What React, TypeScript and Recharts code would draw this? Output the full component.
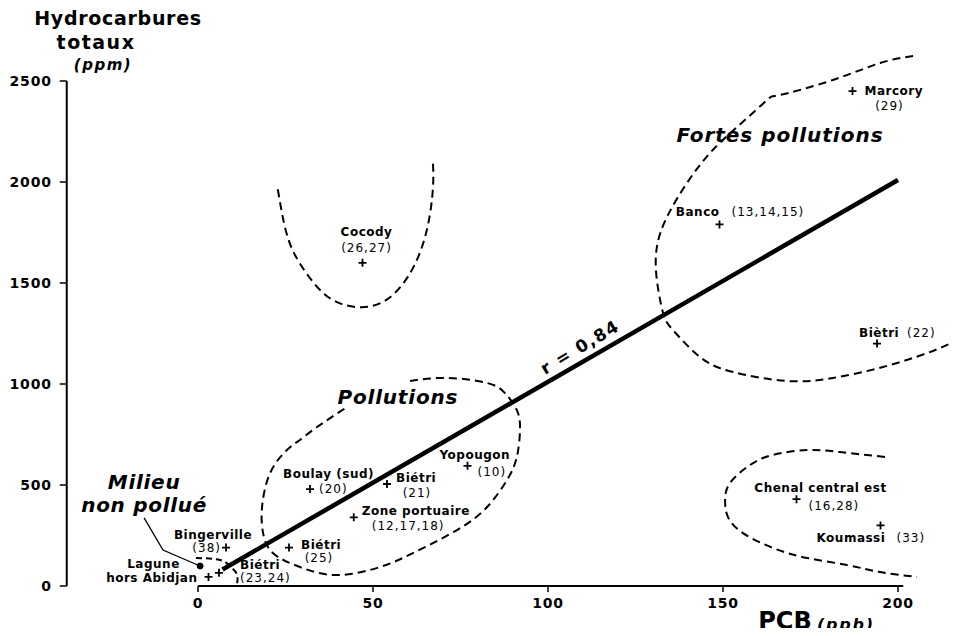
import {
  ComposedChart,
  Customized,
  Line,
  ReferenceDot,
  ReferenceLine,
  Scatter,
  XAxis,
  YAxis,
} from 'recharts';

const FONT = '"DejaVu Sans", "Liberation Sans", sans-serif';

// sampling sites: PCB (ppb) vs total hydrocarbons (ppm), station numbers in brackets
const SITE_IDS = ['marcory', 'banco', 'bietri22', 'cocody', 'chenal', 'koumassi', 'yopougon', 'bietri21', 'boulay', 'zone', 'bietri25', 'bingerville', 'lagune', 'bietri2324'];
const SITE_NAMES = ['Marcory', 'Banco', 'Biètri', 'Cocody', 'Chenal central est', 'Koumassi', 'Yopougon', 'Biétri', 'Boulay (sud)', 'Zone portuaire', 'Biétri', 'Bingerville', 'Lagune\nhors Abidjan', 'Biétri'];
const STATIONS = ['(29)', '(13,14,15)', '(22)', '(26,27)', '(16,28)', '(33)', '(10)', '(21)', '(20)', '(12,17,18)', '(25)', '(38)', '', '(23,24)'];
const PCB_PPB = [187, 149, 194, 47, 171, 195, 77, 54, 32, 44.5, 26, 8, 3, 6];
const HC_PPM = [2450, 1790, 1200, 1600, 430, 300, 595, 505, 480, 340, 190, 190, 45, 65];

// regression line, r = 0,84
const REG_PCB = [7, 200];
const REG_HC = [82, 2010];

// dashed group outlines
const COCODY_PCB = [22.8, 25.3, 29.1, 34.9, 40.6, 46.8, 53, 58.7, 63.4, 66.2, 67.2, 67.1];
const COCODY_HC = [1964, 1746, 1597, 1465, 1399, 1380, 1408, 1499, 1650, 1832, 1997, 2097];
const POLL_PCB = [60.6, 71.1, 82.6, 87.7, 91.1, 92, 91.1, 88.3, 82.6, 74, 61.4, 52, 39.7, 29.1, 21.4, 18.6, 18.3, 20.6, 25.4, 29.1, 34, 42.6];
const POLL_HC = [1015, 1030, 1005, 955, 871, 772, 639, 525, 391, 277, 163, 94, 54, 94, 163, 262, 391, 559, 673, 723, 787, 886];
const FORTES_PCB = [204.3, 194.9, 181.4, 166.3, 162.6, 154, 146.3, 139.7, 134, 131.1, 131.1, 132.9, 135.7, 143.4, 152.9, 168.3, 181.4, 195.7, 208.3, 214.6];
const FORTES_HC = [2624, 2589, 2505, 2431, 2406, 2272, 2144, 1995, 1827, 1678, 1515, 1351, 1267, 1134, 1059, 1015, 1030, 1084, 1153, 1198];
const CHENAL_PCB = [196.3, 183.4, 174, 164.3, 157.7, 152, 150.6, 151.4, 155.7, 164.3, 174, 185.4, 194.9, 205.4];
const CHENAL_HC = [639, 663, 673, 649, 599, 510, 426, 342, 262, 188, 139, 104, 69, 45];
const MILIEU_PCB = [-0.6, 6.3, 9.1, 11.1, 11.1];
const MILIEU_HC = [139, 129, 99, 59, 5];
const LEADER_PCB = [-15.4, -10, 0.6];
const LEADER_HC = [337, 178, 99];

const X_TICKS = [0, 50, 100, 150, 200];
const Y_TICKS = [0, 500, 1000, 1500, 2000, 2500];

const toPoints = (xs: number[], ys: number[]) => xs.map((x, i) => ({ x, y: ys[i] }));

const sites = SITE_IDS.map((id, i) => ({ id, name: SITE_NAMES[i], station: STATIONS[i], x: PCB_PPB[i], y: HC_PPM[i] }));

type Anchor = 'start' | 'middle' | 'end';
type Place = [number, number, Anchor];

// label offsets (px) from each "+" marker: one entry per name line, then the station numbers
const LABEL_LAYOUT: Record<string, { name: Place[]; station?: Place }> = {
  marcory: { name: [[12, 0, 'start']], station: [37, 15, 'middle'] },
  banco: { name: [[0, -12, 'end']], station: [12, -12, 'start'] },
  bietri22: { name: [[-18, -11, 'start']], station: [30, -11, 'start'] },
  cocody: { name: [[4, -31, 'middle']], station: [4, -15, 'middle'] },
  chenal: { name: [[24, -11, 'middle']], station: [12, 7, 'start'] },
  koumassi: { name: [[-64, 13, 'start']], station: [16, 13, 'start'] },
  yopougon: { name: [[-28, -11, 'start']], station: [10, 6, 'start'] },
  bietri21: { name: [[9, -6, 'start']], station: [30, 9, 'middle'] },
  boulay: { name: [[-27, -15, 'start']], station: [9, 0, 'start'] },
  zone: { name: [[8, -6, 'start']], station: [18, 9, 'start'] },
  bietri25: { name: [[12, -3, 'start']], station: [30, 10, 'middle'] },
  bingerville: { name: [[-13, -13, 'middle']], station: [-5, 0, 'end'] },
  lagune: { name: [[-55, -13, 'middle'], [-11, 1, 'end']] },
  bietri2324: { name: [[21, -8, 'start']], station: [21, 5, 'start'] },
};

function SiteMarker(props: any) {
  const { cx, cy, payload } = props;
  const layout = LABEL_LAYOUT[payload.id];
  const lines = String(payload.name).split('\n');
  return (
    <g>
      <path d={`M${cx - 4},${cy}H${cx + 4}M${cx},${cy - 4}V${cy + 4}`} stroke="#000" strokeWidth={1.8} />
      {lines.map((line, i) => {
        const [dx, dy, anchor] = layout.name[i];
        return (
          <text key={i} x={cx + dx} y={cy + dy} textAnchor={anchor} dominantBaseline="central" fontSize={12} fontWeight="bold" letterSpacing={0.5} fill="#000">
            {line}
          </text>
        );
      })}
      {layout.station && payload.station && (
        <text x={cx + layout.station[0]} y={cy + layout.station[1]} textAnchor={layout.station[2]} dominantBaseline="central" fontSize={12} letterSpacing={1} fill="#000">
          {payload.station}
        </text>
      )}
    </g>
  );
}

function Annotation({ cx, cy, lines, size, spacing, angle = 0, lineGap = 23 }: any) {
  return (
    <g transform={angle ? `rotate(${angle} ${cx} ${cy})` : undefined}>
      {lines.map((t: string, i: number) => (
        <text
          key={i}
          x={cx}
          y={cy + i * lineGap}
          textAnchor="middle"
          dominantBaseline="central"
          fontSize={size}
          fontWeight="bold"
          fontStyle={angle ? 'normal' : 'italic'}
          letterSpacing={spacing}
          fill="#000"
        >
          {t}
        </text>
      ))}
    </g>
  );
}

function Titles() {
  return (
    <g fill="#000" fontWeight="bold">
      <text x={110} y={10} textAnchor="middle" dominantBaseline="central" fontSize={19} letterSpacing={0.7}>Hydrocarbures</text>
      <text x={88} y={34} textAnchor="middle" dominantBaseline="central" fontSize={19} letterSpacing={1.5}>totaux</text>
      <text x={95} y={57} textAnchor="middle" dominantBaseline="central" fontSize={15} fontStyle="italic" letterSpacing={1.5}>(ppm)</text>
      <text x={777} y={613} textAnchor="middle" dominantBaseline="central" fontSize={24}>PCB</text>
      <text x={809} y={616} textAnchor="start" dominantBaseline="central" fontSize={16} fontStyle="italic" letterSpacing={1.8}>(ppb)</text>
    </g>
  );
}

const dashed = { stroke: '#000', strokeWidth: 2, strokeDasharray: '8 5', dot: false, type: 'natural' as const, isAnimationActive: false };
const tickStyle = { fill: '#000', fontSize: 14, fontWeight: 'bold', letterSpacing: 0.8 };

export default function App() {
  return (
    <div style={{ width: 946, height: 628, marginBottom: -8, fontFamily: FONT }}>
      <ComposedChart width={946} height={628} margin={{ top: 32.6, right: 3.5, bottom: 20, left: 8.75 }}>
        <XAxis
          type="number"
          dataKey="x"
          domain={[-37.5, 215]}
          ticks={X_TICKS}
          axisLine={false}
          tickLine={{ stroke: '#000', strokeWidth: 1.5 }}
          tickSize={6}
          tickMargin={6}
          height={30}
          tick={tickStyle}
        />
        <YAxis
          type="number"
          dataKey="y"
          domain={[0, 2700]}
          ticks={Y_TICKS}
          axisLine={false}
          tickLine={{ stroke: '#000', strokeWidth: 1.5 }}
          tickSize={7}
          tickMargin={8}
          width={50}
          tick={tickStyle}
        />
        <ReferenceLine segment={[{ x: 0, y: 0 }, { x: 201.5, y: 0 }]} stroke="#000" strokeWidth={2} />
        <ReferenceLine segment={[{ x: -37.5, y: 0 }, { x: -37.5, y: 2500 }]} stroke="#000" strokeWidth={2} />

        <Line data={toPoints(COCODY_PCB, COCODY_HC)} dataKey="y" {...dashed} />
        <Line data={toPoints(POLL_PCB, POLL_HC)} dataKey="y" {...dashed} />
        <Line data={toPoints(FORTES_PCB, FORTES_HC)} dataKey="y" {...dashed} />
        <Line data={toPoints(CHENAL_PCB, CHENAL_HC)} dataKey="y" {...dashed} />
        <Line data={toPoints(MILIEU_PCB, MILIEU_HC)} dataKey="y" {...dashed} strokeDasharray="6 4" />
        <Line data={toPoints(LEADER_PCB, LEADER_HC)} dataKey="y" type="linear" stroke="#000" strokeWidth={1.3} dot={false} isAnimationActive={false} />
        <Line data={toPoints(REG_PCB, REG_HC)} dataKey="y" type="linear" stroke="#000" strokeWidth={4.5} dot={false} isAnimationActive={false} />
        <ReferenceDot x={0.6} y={99} r={3} fill="#000" stroke="#000" />

        <Scatter data={sites} dataKey="y" shape={SiteMarker} isAnimationActive={false} />

        <ReferenceDot x={-15.4} y={515} r={0} shape={(p: any) => <Annotation cx={p.cx} cy={p.cy} lines={['Milieu', 'non pollué']} size={20} spacing={0.7} />} />
        <ReferenceDot x={57.1} y={936} r={0} shape={(p: any) => <Annotation cx={p.cx} cy={p.cy} lines={['Pollutions']} size={20} spacing={0.8} />} />
        <ReferenceDot x={166.3} y={2233} r={0} shape={(p: any) => <Annotation cx={p.cx} cy={p.cy} lines={['Fortes pollutions']} size={20} spacing={1} />} />
        <ReferenceDot x={109.1} y={1183} r={0} shape={(p: any) => <Annotation cx={p.cx} cy={p.cy} lines={['r = 0,84']} size={17} spacing={1.5} angle={-31} />} />

        <Customized component={Titles} />
      </ComposedChart>
    </div>
  );
}
